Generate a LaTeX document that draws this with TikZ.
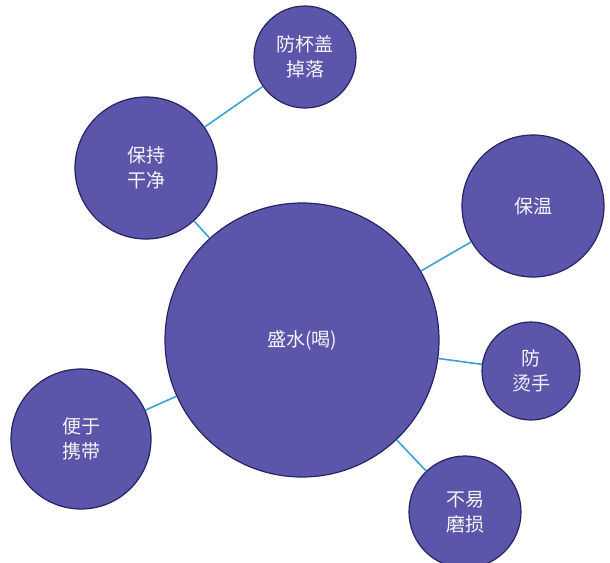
\documentclass[tikz,border=0pt]{standalone}
\usepackage{fontspec}
\newfontfamily\cjk{Noto Sans CJK SC}
\definecolor{fillc}{RGB}{92,86,170}
\definecolor{edgec}{RGB}{38,36,100}
\definecolor{linec}{RGB}{60,160,215}
\begin{document}
\begin{tikzpicture}[x=1pt,y=-1pt,
  bubble/.style={circle, fill=fillc, draw=edgec, line width=1.2pt, inner sep=0pt,
    text=white!92!gray, font=\cjk\fontsize{19}{25}\selectfont, align=center},
  link/.style={draw=linec, line width=1.6pt}]
\useasboundingbox (0,0) rectangle (610,562);
\node[bubble, minimum size=274pt] (c) at (302,340) {盛水(喝)};
\node[bubble, minimum size=102pt] (top) at (305,57) {防杯盖\\掉落};
\node[bubble, minimum size=142pt] (clean) at (146,168) {保持\\干净};
\node[bubble, minimum size=142pt] (warm) at (533,206) {保温};
\node[bubble, minimum size=98pt] (hot) at (531,371) {防\\烫手};
\node[bubble, minimum size=140pt] (carry) at (81,439) {便于\\携带};
\node[bubble, minimum size=112pt] (wear) at (465,512) {不易\\磨损};
\draw[link] (top) -- (clean);
\draw[link] (clean) -- (c);
\draw[link] (warm) -- (c);
\draw[link] (hot) -- (c);
\draw[link] (carry) -- (c);
\draw[link] (wear) -- (c);
\end{tikzpicture}
\end{document}
